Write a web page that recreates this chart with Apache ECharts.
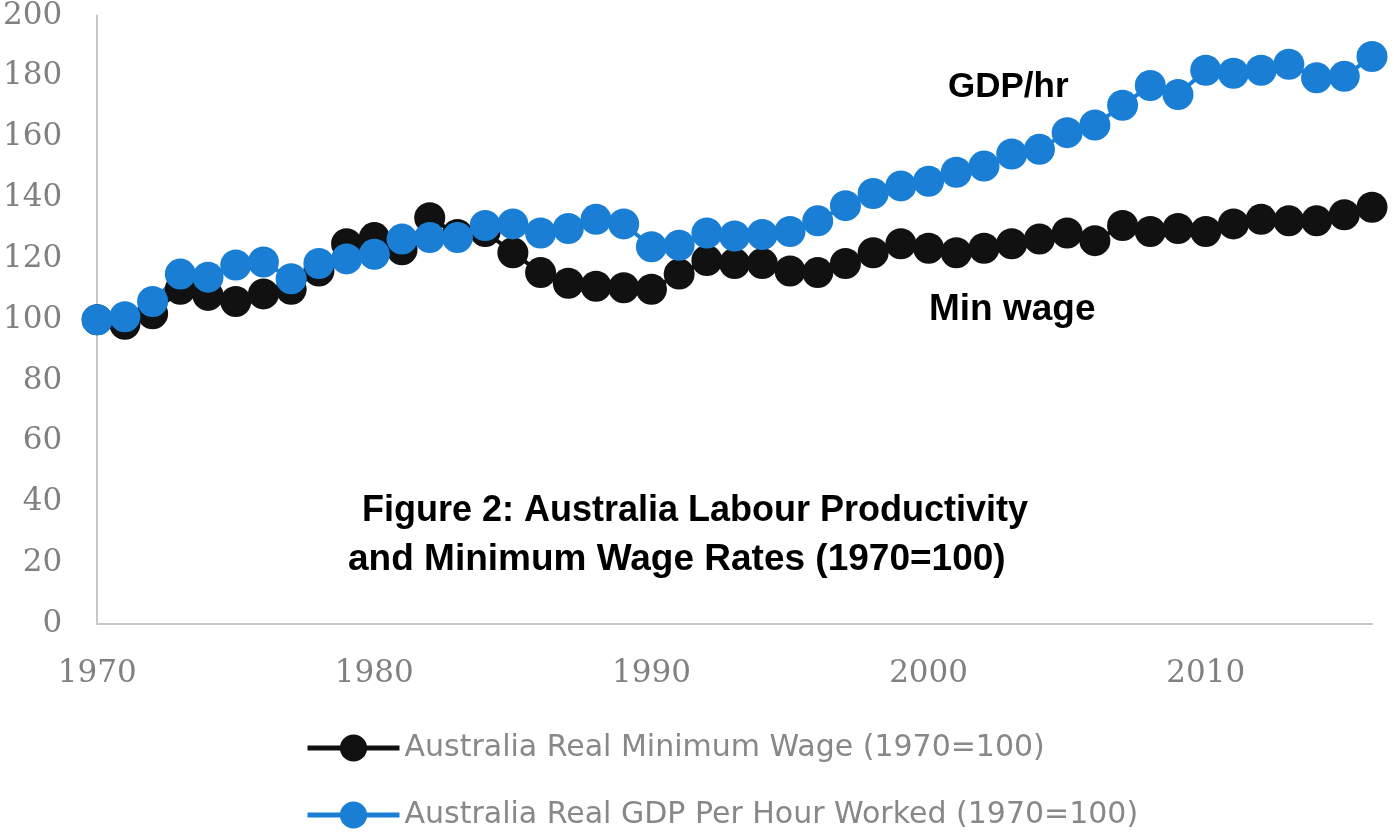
<!DOCTYPE html>
<html>
<head>
<meta charset="utf-8">
<title>Australia Labour Productivity and Minimum Wage</title>
<script src="https://cdn.jsdelivr.net/npm/echarts@6/dist/echarts.min.js"></script>
<style>
  html, body { margin: 0; padding: 0; background: #fff; }
  #main { width: 1394px; height: 832px; }
</style>
</head>
<body>
<div id="main"></div>
<script>
var years = [];
for (var y = 1970; y <= 2016; y++) years.push(String(y));

var minWage = [
  100, 98.5, 102, 110, 108, 106, 108.5, 110, 116, 125,
  127, 123, 133.5, 128, 129, 122, 115.5, 112, 111, 110.5,
  110, 115, 119.5, 118.5, 118.5, 116, 115.5, 118.5, 122, 125,
  123.5, 122, 123.5, 125, 126.5, 128.5, 126, 131, 129, 130,
  129, 131.5, 133, 132.5, 132.5, 134.5, 137
];
var gdpHr = [
  100, 101, 106, 115, 114, 118, 119, 113.5, 118.5, 120,
  121.5, 126.5, 127, 127, 131, 131.5, 128.5, 130, 133, 131.5,
  124, 124.5, 128.5, 127.5, 128, 129, 132.5, 137.5, 141.5, 144,
  145.5, 148.5, 150.5, 154.5, 156, 161.5, 164, 170.5, 177, 174,
  182, 181, 182, 184, 179.5, 180, 186.5
];

var seriesNames = [
  'Australia Real Minimum Wage (1970=100)',
  'Australia Real GDP Per Hour Worked (1970=100)'
];

var chart = echarts.init(document.getElementById('main'));

// one legend per row, stacked like the original
function legendRow(name, top) {
  return {
    orient: 'horizontal',
    left: 300,
    top: top,
    itemWidth: 92,
    itemHeight: 34,
    lineStyle: { width: 5 },
    textStyle: { color: '#888', fontFamily: 'DejaVu Sans', fontSize: 30 },
    data: [name]
  };
}

var option = {
  backgroundColor: '#fff',
  animation: false,
  grid: { left: 97, right: 22, top: 12, bottom: 208 },
  xAxis: {
    type: 'category',
    data: years,
    boundaryGap: false,
    axisLine: { lineStyle: { color: '#c8c8c8', width: 2 } },
    axisTick: { show: false },
    axisLabel: {
      interval: function (i) { return i % 10 === 0; },
      margin: 34,
      color: '#808080',
      fontFamily: 'DejaVu Serif',
      fontSize: 31
    },
    splitLine: { show: false }
  },
  yAxis: {
    type: 'value',
    min: 0,
    max: 200,
    interval: 20,
    axisLine: { show: true, lineStyle: { color: '#c8c8c8', width: 2 } },
    axisTick: { show: false },
    axisLabel: {
      margin: 35,
      color: '#808080',
      fontFamily: 'DejaVu Serif',
      fontSize: 31
    },
    splitLine: { show: false }
  },
  legend: [
    legendRow(seriesNames[0], 728),
    legendRow(seriesNames[1], 795)
  ],
  series: [
    {
      name: seriesNames[0],
      type: 'line',
      data: minWage,
      symbol: 'circle',
      symbolSize: 31,
      showAllSymbol: true,
      color: '#111111',
      lineStyle: { width: 4, color: '#111111' },
      itemStyle: { color: '#111111' }
    },
    {
      name: seriesNames[1],
      type: 'line',
      data: gdpHr,
      symbol: 'circle',
      symbolSize: 31,
      showAllSymbol: true,
      color: '#1a7fd4',
      lineStyle: { width: 4, color: '#1a7fd4' },
      itemStyle: { color: '#1a7fd4' }
    }
  ],
  graphic: [
    {
      type: 'text', left: 948, top: 70,
      style: { text: 'GDP/hr', font: 'bold 35px "Liberation Sans"', fill: '#000' }
    },
    {
      type: 'text', left: 929, top: 291,
      style: { text: 'Min wage', font: 'bold 37px "Liberation Sans"', fill: '#000' }
    },
    {
      type: 'text', left: 362, top: 493,
      style: { text: 'Figure 2: Australia Labour Productivity', font: 'bold 36px "Liberation Sans"', fill: '#000' }
    },
    {
      type: 'text', left: 348, top: 541,
      style: { text: 'and Minimum Wage Rates (1970=100)', font: 'bold 37px "Liberation Sans"', fill: '#000' }
    }
  ]
};

chart.setOption(option);
</script>
</body>
</html>
